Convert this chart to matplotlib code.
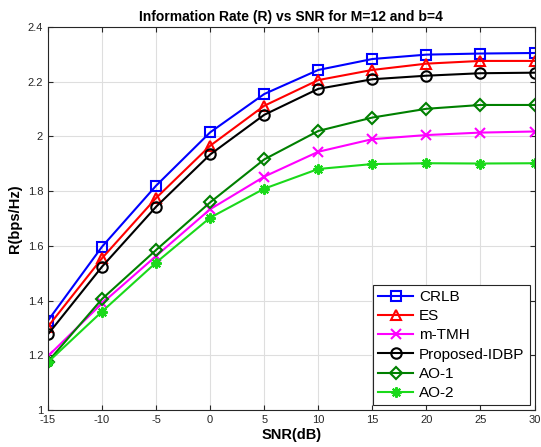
import matplotlib.pyplot as plt
from matplotlib.ticker import FormatStrFormatter

plt.rcParams['font.family'] = ['Liberation Sans', 'DejaVu Sans']
plt.rcParams['axes.unicode_minus'] = False

snr = [-15, -10, -5, 0, 5, 10, 15, 20, 25, 30]
crlb = [1.327, 1.597, 1.820, 2.015, 2.155, 2.243, 2.283, 2.299, 2.303, 2.305]
es = [1.305, 1.555, 1.775, 1.966, 2.112, 2.206, 2.243, 2.266, 2.276, 2.276]
m_tmh = [1.197, 1.390, 1.563, 1.734, 1.853, 1.944, 1.990, 2.005, 2.014, 2.018]
proposed = [1.277, 1.524, 1.743, 1.934, 2.079, 2.174, 2.209, 2.222, 2.231, 2.233]
ao1 = [1.177, 1.406, 1.585, 1.759, 1.916, 2.020, 2.069, 2.101, 2.115, 2.115]
ao2 = [1.175, 1.360, 1.539, 1.703, 1.809, 1.881, 1.899, 1.902, 1.901, 1.902]

fig = plt.figure(figsize=(5.41, 4.47), dpi=100)
ax = fig.add_axes([48 / 541, 37 / 447, 486.5 / 541, 383 / 447])
ax.grid(color='#dedede', linewidth=0.8)
ax.set_axisbelow(True)

style = dict(linewidth=1.5, markersize=7.5, markeredgewidth=1.5, markerfacecolor='none')
ax.plot(snr, crlb, color='b', marker='s', label="CRLB", **style)
ax.plot(snr, es, color='r', marker='^', label="ES", **style)
ax.plot(snr, m_tmh, color='#ff00ff', marker='x', label="m-TMH", **style)
ax.plot(snr, proposed, color='k', marker='o', label="Proposed-IDBP", **style)
ax.plot(snr, ao1, color=(0, 0.5, 0), marker='D', label="AO-1", linewidth=1.5, markersize=6.5,
        markeredgewidth=1.5, markerfacecolor='none')
ax.plot(snr, ao2, color=(0.1, 0.85, 0.1), marker=(8, 2, 0), label="AO-2", **style)

ax.set_xlim(-15, 30)
ax.set_ylim(1, 2.4)
ax.set_xticks(snr)
ax.set_yticks([1, 1.2, 1.4, 1.6, 1.8, 2, 2.2, 2.4])
ax.yaxis.set_major_formatter(FormatStrFormatter('%g'))
ax.tick_params(direction='in', labelsize=8, colors='#262626', top=True, right=True,
               labeltop=False, labelright=False)
for s in ax.spines.values():
    s.set_color('#262626')
    s.set_linewidth(0.8)

ax.set_xlabel("SNR(dB)", fontsize=10.5, fontweight='bold', labelpad=2)
ax.set_ylabel("R(bps/Hz)", fontsize=10.5, fontweight='bold', labelpad=4)
ax.set_title("Information Rate (R) vs SNR for M=12 and b=4", fontsize=10, fontweight='bold', pad=4)

leg = ax.legend(loc='lower right', fontsize=11, fancybox=False, framealpha=1, edgecolor='#262626',
                handlelength=2.3, borderaxespad=0.3, labelspacing=0.34, handletextpad=0.4,
                borderpad=0.35)
leg.get_frame().set_linewidth(0.8)

fig.savefig("out.png", dpi=100)
